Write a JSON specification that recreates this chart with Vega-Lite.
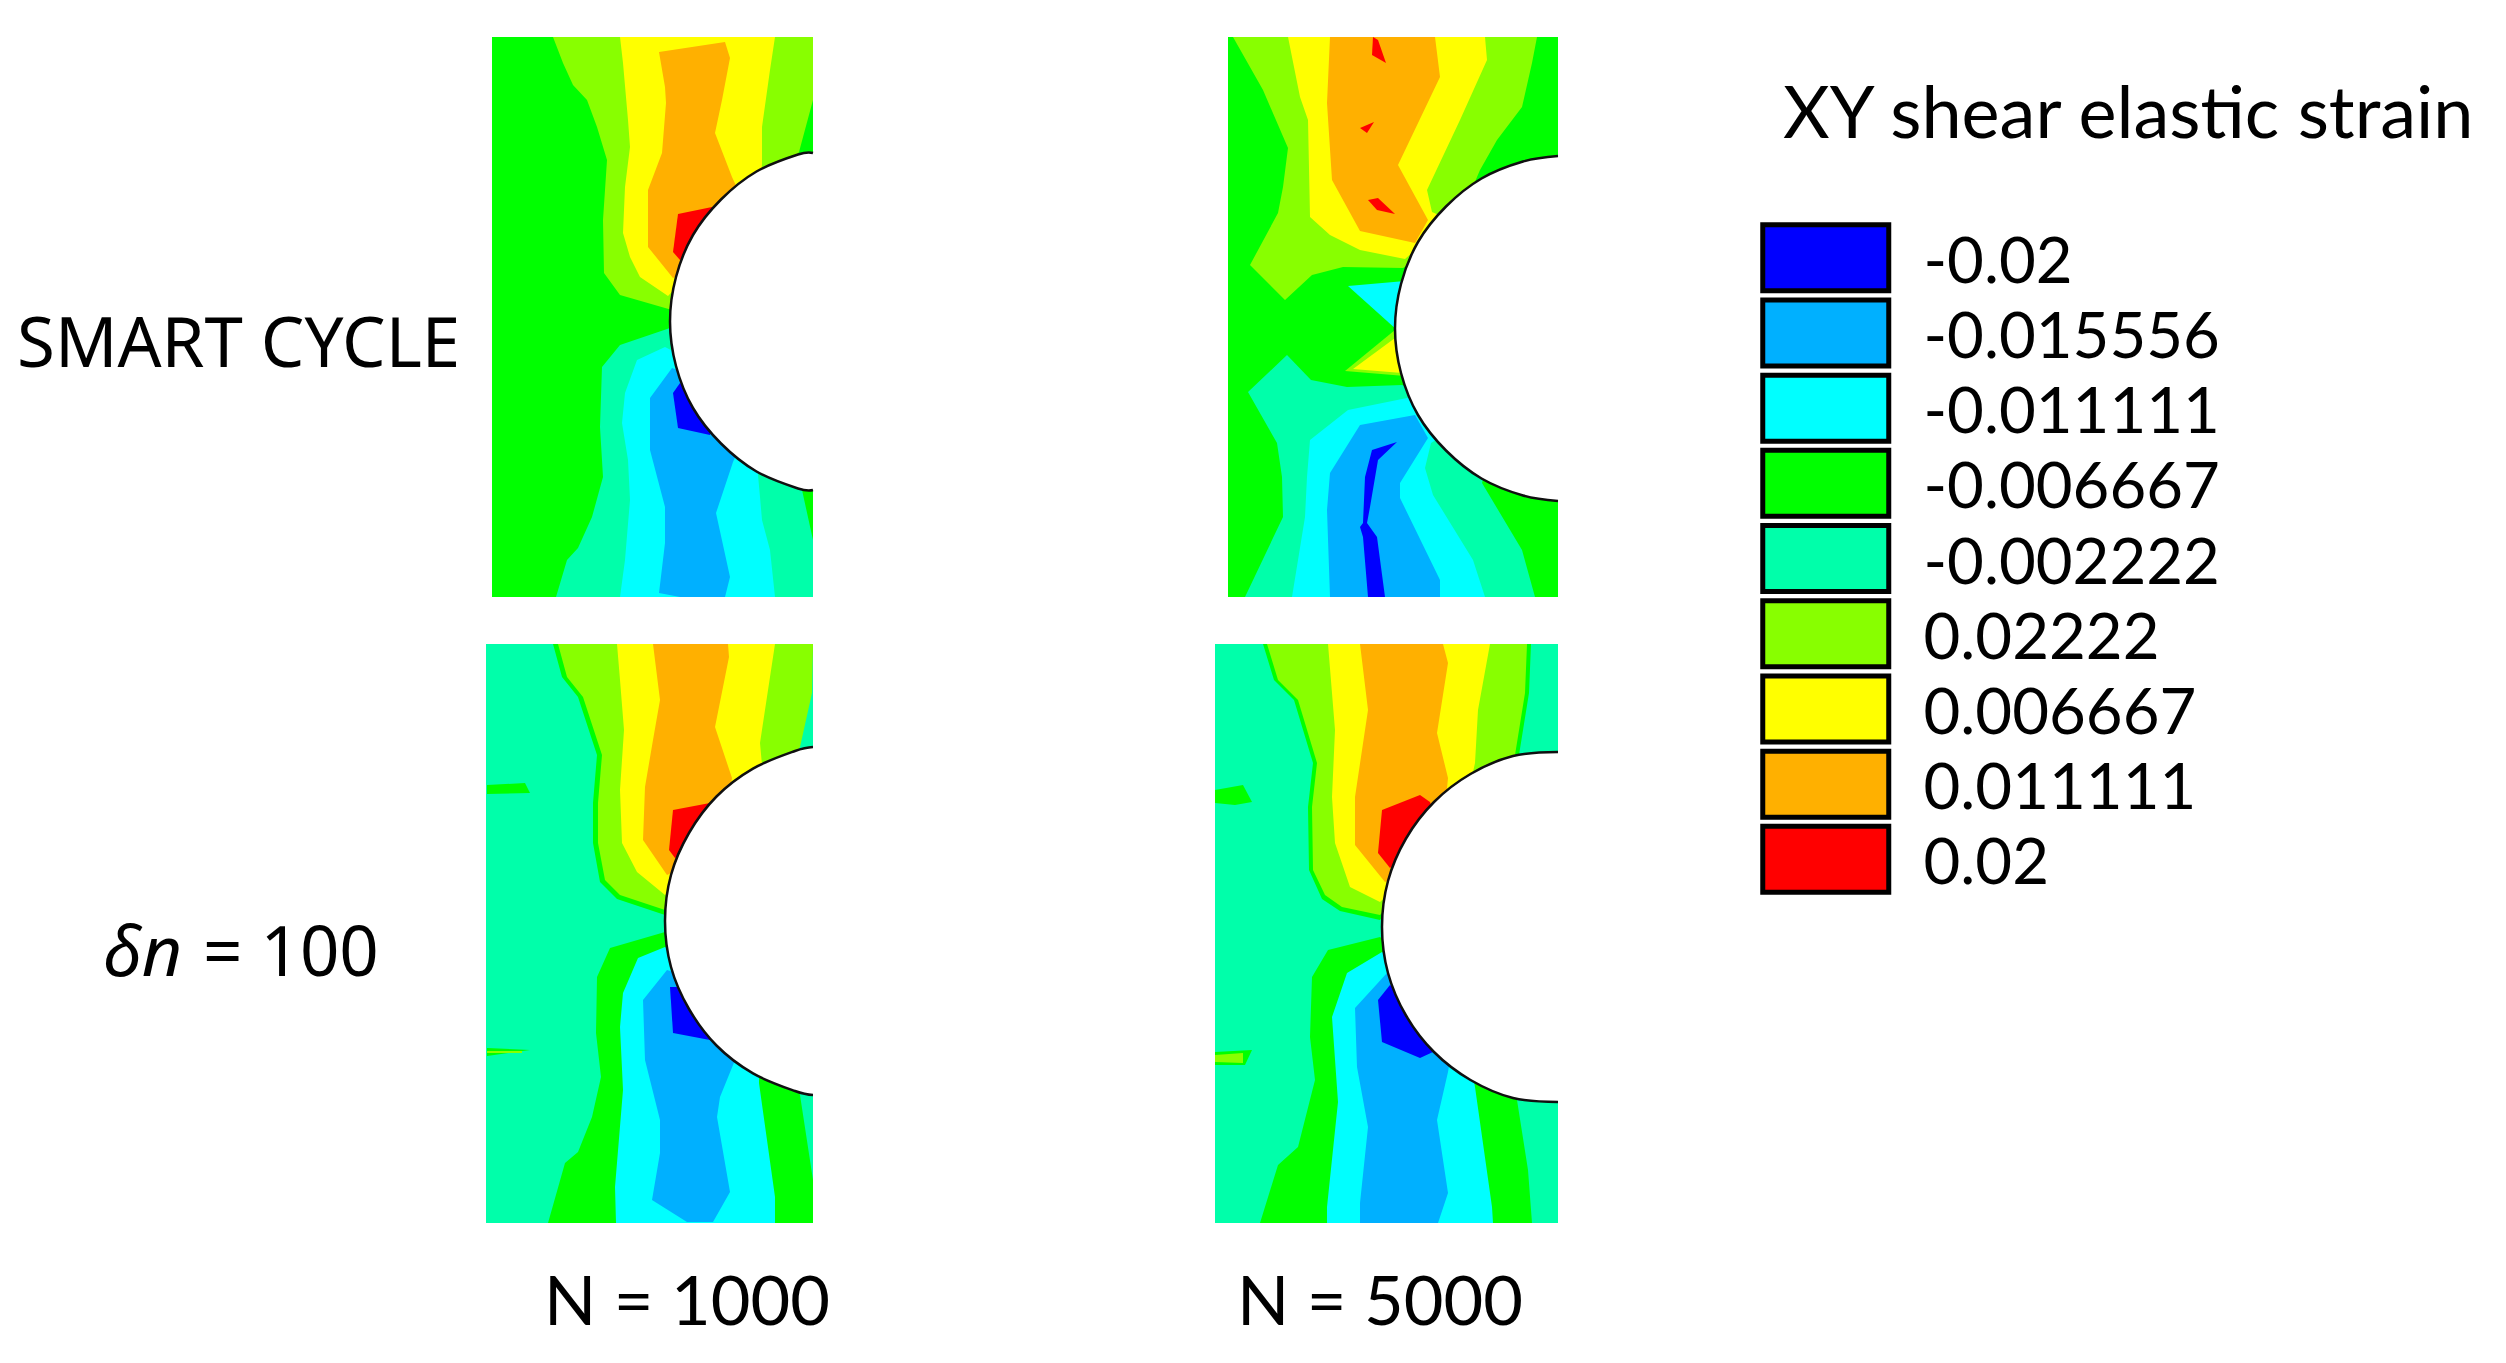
{
  "$schema": "https://vega.github.io/schema/vega-lite/v6.json",
  "width": 2506,
  "height": 1363,
  "padding": 0,
  "autosize": {"type": "fit", "contains": "padding"},
  "background": "white",
  "config": {"view": {"stroke": null}},
  "datasets": {
    "bands": [
      {"id":"A0","s":"-0.006667","i":0,"x":492,"y":37},{"id":"A0","s":"-0.006667","i":1,"x":813,"y":37},{"id":"A0","s":"-0.006667","i":2,"x":813,"y":597},{"id":"A0","s":"-0.006667","i":3,"x":492,"y":597},
      {"id":"A1","s":"0.02222","i":0,"x":553,"y":37},{"id":"A1","s":"0.02222","i":1,"x":563,"y":63},{"id":"A1","s":"0.02222","i":2,"x":573,"y":85},{"id":"A1","s":"0.02222","i":3,"x":587,"y":100},{"id":"A1","s":"0.02222","i":4,"x":597,"y":127},{"id":"A1","s":"0.02222","i":5,"x":607,"y":160},{"id":"A1","s":"0.02222","i":6,"x":603,"y":220},{"id":"A1","s":"0.02222","i":7,"x":604,"y":273},{"id":"A1","s":"0.02222","i":8,"x":620,"y":295},{"id":"A1","s":"0.02222","i":9,"x":672,"y":310},{"id":"A1","s":"0.02222","i":10,"x":760,"y":200},{"id":"A1","s":"0.02222","i":11,"x":799,"y":152},{"id":"A1","s":"0.02222","i":12,"x":813,"y":100},{"id":"A1","s":"0.02222","i":13,"x":813,"y":37},
      {"id":"A2","s":"0.006667","i":0,"x":620,"y":37},{"id":"A2","s":"0.006667","i":1,"x":623,"y":63},{"id":"A2","s":"0.006667","i":2,"x":628,"y":120},{"id":"A2","s":"0.006667","i":3,"x":630,"y":147},{"id":"A2","s":"0.006667","i":4,"x":625,"y":187},{"id":"A2","s":"0.006667","i":5,"x":623,"y":233},{"id":"A2","s":"0.006667","i":6,"x":630,"y":257},{"id":"A2","s":"0.006667","i":7,"x":640,"y":277},{"id":"A2","s":"0.006667","i":8,"x":668,"y":296},{"id":"A2","s":"0.006667","i":9,"x":760,"y":200},{"id":"A2","s":"0.006667","i":10,"x":762,"y":163},{"id":"A2","s":"0.006667","i":11,"x":762,"y":127},{"id":"A2","s":"0.006667","i":12,"x":770,"y":70},{"id":"A2","s":"0.006667","i":13,"x":775,"y":37},
      {"id":"A3","s":"0.011111","i":0,"x":659,"y":52},{"id":"A3","s":"0.011111","i":1,"x":725,"y":42},{"id":"A3","s":"0.011111","i":2,"x":730,"y":58},{"id":"A3","s":"0.011111","i":3,"x":722,"y":100},{"id":"A3","s":"0.011111","i":4,"x":715,"y":133},{"id":"A3","s":"0.011111","i":5,"x":732,"y":177},{"id":"A3","s":"0.011111","i":6,"x":745,"y":205},{"id":"A3","s":"0.011111","i":7,"x":690,"y":270},{"id":"A3","s":"0.011111","i":8,"x":673,"y":278},{"id":"A3","s":"0.011111","i":9,"x":648,"y":247},{"id":"A3","s":"0.011111","i":10,"x":648,"y":190},{"id":"A3","s":"0.011111","i":11,"x":662,"y":153},{"id":"A3","s":"0.011111","i":12,"x":666,"y":103},{"id":"A3","s":"0.011111","i":13,"x":665,"y":87},
      {"id":"A4","s":"0.02","i":0,"x":678,"y":214},{"id":"A4","s":"0.02","i":1,"x":712,"y":207},{"id":"A4","s":"0.02","i":2,"x":720,"y":230},{"id":"A4","s":"0.02","i":3,"x":680,"y":260},{"id":"A4","s":"0.02","i":4,"x":673,"y":252},
      {"id":"A5","s":"-0.002222","i":0,"x":670,"y":328},{"id":"A5","s":"-0.002222","i":1,"x":620,"y":345},{"id":"A5","s":"-0.002222","i":2,"x":602,"y":367},{"id":"A5","s":"-0.002222","i":3,"x":600,"y":427},{"id":"A5","s":"-0.002222","i":4,"x":603,"y":477},{"id":"A5","s":"-0.002222","i":5,"x":592,"y":517},{"id":"A5","s":"-0.002222","i":6,"x":578,"y":548},{"id":"A5","s":"-0.002222","i":7,"x":567,"y":560},{"id":"A5","s":"-0.002222","i":8,"x":556,"y":597},{"id":"A5","s":"-0.002222","i":9,"x":813,"y":597},{"id":"A5","s":"-0.002222","i":10,"x":813,"y":540},{"id":"A5","s":"-0.002222","i":11,"x":802,"y":490},{"id":"A5","s":"-0.002222","i":12,"x":760,"y":420},
      {"id":"A6","s":"-0.011111","i":0,"x":665,"y":347},{"id":"A6","s":"-0.011111","i":1,"x":637,"y":360},{"id":"A6","s":"-0.011111","i":2,"x":625,"y":393},{"id":"A6","s":"-0.011111","i":3,"x":622,"y":423},{"id":"A6","s":"-0.011111","i":4,"x":628,"y":460},{"id":"A6","s":"-0.011111","i":5,"x":630,"y":500},{"id":"A6","s":"-0.011111","i":6,"x":625,"y":560},{"id":"A6","s":"-0.011111","i":7,"x":620,"y":597},{"id":"A6","s":"-0.011111","i":8,"x":775,"y":597},{"id":"A6","s":"-0.011111","i":9,"x":770,"y":550},{"id":"A6","s":"-0.011111","i":10,"x":762,"y":520},{"id":"A6","s":"-0.011111","i":11,"x":760,"y":497},{"id":"A6","s":"-0.011111","i":12,"x":758,"y":475},{"id":"A6","s":"-0.011111","i":13,"x":770,"y":400},
      {"id":"A7","s":"-0.015556","i":0,"x":672,"y":368},{"id":"A7","s":"-0.015556","i":1,"x":650,"y":398},{"id":"A7","s":"-0.015556","i":2,"x":650,"y":450},{"id":"A7","s":"-0.015556","i":3,"x":665,"y":507},{"id":"A7","s":"-0.015556","i":4,"x":665,"y":543},{"id":"A7","s":"-0.015556","i":5,"x":659,"y":593},{"id":"A7","s":"-0.015556","i":6,"x":680,"y":597},{"id":"A7","s":"-0.015556","i":7,"x":725,"y":597},{"id":"A7","s":"-0.015556","i":8,"x":730,"y":577},{"id":"A7","s":"-0.015556","i":9,"x":716,"y":513},{"id":"A7","s":"-0.015556","i":10,"x":733,"y":462},{"id":"A7","s":"-0.015556","i":11,"x":760,"y":400},
      {"id":"A8","s":"-0.02","i":0,"x":680,"y":383},{"id":"A8","s":"-0.02","i":1,"x":673,"y":393},{"id":"A8","s":"-0.02","i":2,"x":678,"y":428},{"id":"A8","s":"-0.02","i":3,"x":710,"y":435},{"id":"A8","s":"-0.02","i":4,"x":720,"y":410},

      {"id":"B0","s":"-0.006667","i":0,"x":1228,"y":37},{"id":"B0","s":"-0.006667","i":1,"x":1558,"y":37},{"id":"B0","s":"-0.006667","i":2,"x":1558,"y":597},{"id":"B0","s":"-0.006667","i":3,"x":1228,"y":597},
      {"id":"B1","s":"0.02222","i":0,"x":1233,"y":37},{"id":"B1","s":"0.02222","i":1,"x":1263,"y":90},{"id":"B1","s":"0.02222","i":2,"x":1288,"y":148},{"id":"B1","s":"0.02222","i":3,"x":1283,"y":187},{"id":"B1","s":"0.02222","i":4,"x":1278,"y":213},{"id":"B1","s":"0.02222","i":5,"x":1250,"y":265},{"id":"B1","s":"0.02222","i":6,"x":1285,"y":300},{"id":"B1","s":"0.02222","i":7,"x":1312,"y":275},{"id":"B1","s":"0.02222","i":8,"x":1343,"y":267},{"id":"B1","s":"0.02222","i":9,"x":1403,"y":268},{"id":"B1","s":"0.02222","i":10,"x":1450,"y":240},{"id":"B1","s":"0.02222","i":11,"x":1480,"y":170},{"id":"B1","s":"0.02222","i":12,"x":1497,"y":140},{"id":"B1","s":"0.02222","i":13,"x":1522,"y":107},{"id":"B1","s":"0.02222","i":14,"x":1532,"y":63},{"id":"B1","s":"0.02222","i":15,"x":1537,"y":37},
      {"id":"B2","s":"0.006667","i":0,"x":1288,"y":37},{"id":"B2","s":"0.006667","i":1,"x":1300,"y":97},{"id":"B2","s":"0.006667","i":2,"x":1308,"y":120},{"id":"B2","s":"0.006667","i":3,"x":1310,"y":217},{"id":"B2","s":"0.006667","i":4,"x":1330,"y":235},{"id":"B2","s":"0.006667","i":5,"x":1360,"y":250},{"id":"B2","s":"0.006667","i":6,"x":1405,"y":259},{"id":"B2","s":"0.006667","i":7,"x":1450,"y":220},{"id":"B2","s":"0.006667","i":8,"x":1432,"y":212},{"id":"B2","s":"0.006667","i":9,"x":1427,"y":190},{"id":"B2","s":"0.006667","i":10,"x":1460,"y":120},{"id":"B2","s":"0.006667","i":11,"x":1487,"y":60},{"id":"B2","s":"0.006667","i":12,"x":1485,"y":37},
      {"id":"B3","s":"0.011111","i":0,"x":1330,"y":37},{"id":"B3","s":"0.011111","i":1,"x":1327,"y":103},{"id":"B3","s":"0.011111","i":2,"x":1332,"y":180},{"id":"B3","s":"0.011111","i":3,"x":1360,"y":231},{"id":"B3","s":"0.011111","i":4,"x":1415,"y":243},{"id":"B3","s":"0.011111","i":5,"x":1428,"y":220},{"id":"B3","s":"0.011111","i":6,"x":1398,"y":165},{"id":"B3","s":"0.011111","i":7,"x":1440,"y":77},{"id":"B3","s":"0.011111","i":8,"x":1435,"y":37},
      {"id":"B4","s":"0.02","i":0,"x":1373,"y":37},{"id":"B4","s":"0.02","i":1,"x":1378,"y":40},{"id":"B4","s":"0.02","i":2,"x":1386,"y":63},{"id":"B4","s":"0.02","i":3,"x":1372,"y":55},
      {"id":"B5","s":"0.02","i":0,"x":1360,"y":128},{"id":"B5","s":"0.02","i":1,"x":1374,"y":122},{"id":"B5","s":"0.02","i":2,"x":1367,"y":133},
      {"id":"B6","s":"0.02","i":0,"x":1368,"y":200},{"id":"B6","s":"0.02","i":1,"x":1378,"y":198},{"id":"B6","s":"0.02","i":2,"x":1395,"y":214},{"id":"B6","s":"0.02","i":3,"x":1377,"y":210},
      {"id":"B7","s":"-0.011111","i":0,"x":1348,"y":286},{"id":"B7","s":"-0.011111","i":1,"x":1405,"y":281},{"id":"B7","s":"-0.011111","i":2,"x":1397,"y":330},
      {"id":"B8","s":"0.02222","i":0,"x":1345,"y":371},{"id":"B8","s":"0.02222","i":1,"x":1395,"y":330},{"id":"B8","s":"0.02222","i":2,"x":1405,"y":376},
      {"id":"B9","s":"0.006667","i":0,"x":1353,"y":369},{"id":"B9","s":"0.006667","i":1,"x":1395,"y":338},{"id":"B9","s":"0.006667","i":2,"x":1402,"y":373},
      {"id":"B10","s":"-0.002222","i":0,"x":1287,"y":355},{"id":"B10","s":"-0.002222","i":1,"x":1311,"y":380},{"id":"B10","s":"-0.002222","i":2,"x":1347,"y":387},{"id":"B10","s":"-0.002222","i":3,"x":1402,"y":385},{"id":"B10","s":"-0.002222","i":4,"x":1500,"y":420},{"id":"B10","s":"-0.002222","i":5,"x":1482,"y":483},{"id":"B10","s":"-0.002222","i":6,"x":1522,"y":550},{"id":"B10","s":"-0.002222","i":7,"x":1535,"y":597},{"id":"B10","s":"-0.002222","i":8,"x":1245,"y":597},{"id":"B10","s":"-0.002222","i":9,"x":1283,"y":517},{"id":"B10","s":"-0.002222","i":10,"x":1282,"y":477},{"id":"B10","s":"-0.002222","i":11,"x":1277,"y":443},{"id":"B10","s":"-0.002222","i":12,"x":1248,"y":392},
      {"id":"B11","s":"-0.011111","i":0,"x":1407,"y":398},{"id":"B11","s":"-0.011111","i":1,"x":1348,"y":410},{"id":"B11","s":"-0.011111","i":2,"x":1310,"y":440},{"id":"B11","s":"-0.011111","i":3,"x":1307,"y":477},{"id":"B11","s":"-0.011111","i":4,"x":1305,"y":517},{"id":"B11","s":"-0.011111","i":5,"x":1292,"y":597},{"id":"B11","s":"-0.011111","i":6,"x":1485,"y":597},{"id":"B11","s":"-0.011111","i":7,"x":1473,"y":560},{"id":"B11","s":"-0.011111","i":8,"x":1433,"y":495},{"id":"B11","s":"-0.011111","i":9,"x":1425,"y":468},{"id":"B11","s":"-0.011111","i":10,"x":1431,"y":443},{"id":"B11","s":"-0.011111","i":11,"x":1500,"y":400},
      {"id":"B12","s":"-0.015556","i":0,"x":1415,"y":415},{"id":"B12","s":"-0.015556","i":1,"x":1360,"y":425},{"id":"B12","s":"-0.015556","i":2,"x":1330,"y":473},{"id":"B12","s":"-0.015556","i":3,"x":1327,"y":510},{"id":"B12","s":"-0.015556","i":4,"x":1330,"y":597},{"id":"B12","s":"-0.015556","i":5,"x":1440,"y":597},{"id":"B12","s":"-0.015556","i":6,"x":1440,"y":580},{"id":"B12","s":"-0.015556","i":7,"x":1400,"y":498},{"id":"B12","s":"-0.015556","i":8,"x":1400,"y":483},{"id":"B12","s":"-0.015556","i":9,"x":1428,"y":438},
      {"id":"B13","s":"-0.02","i":0,"x":1397,"y":442},{"id":"B13","s":"-0.02","i":1,"x":1372,"y":450},{"id":"B13","s":"-0.02","i":2,"x":1365,"y":477},{"id":"B13","s":"-0.02","i":3,"x":1363,"y":523},{"id":"B13","s":"-0.02","i":4,"x":1360,"y":527},{"id":"B13","s":"-0.02","i":5,"x":1363,"y":537},{"id":"B13","s":"-0.02","i":6,"x":1368,"y":597},{"id":"B13","s":"-0.02","i":7,"x":1385,"y":597},{"id":"B13","s":"-0.02","i":8,"x":1377,"y":537},{"id":"B13","s":"-0.02","i":9,"x":1367,"y":523},{"id":"B13","s":"-0.02","i":10,"x":1370,"y":507},{"id":"B13","s":"-0.02","i":11,"x":1378,"y":460},

      {"id":"C0","s":"-0.002222","i":0,"x":486,"y":644},{"id":"C0","s":"-0.002222","i":1,"x":813,"y":644},{"id":"C0","s":"-0.002222","i":2,"x":813,"y":1223},{"id":"C0","s":"-0.002222","i":3,"x":486,"y":1223},
      {"id":"C1","s":"-0.006667","i":0,"x":553,"y":644},{"id":"C1","s":"-0.006667","i":1,"x":562,"y":677},{"id":"C1","s":"-0.006667","i":2,"x":578,"y":697},{"id":"C1","s":"-0.006667","i":3,"x":597,"y":755},{"id":"C1","s":"-0.006667","i":4,"x":593,"y":803},{"id":"C1","s":"-0.006667","i":5,"x":593,"y":843},{"id":"C1","s":"-0.006667","i":6,"x":600,"y":882},{"id":"C1","s":"-0.006667","i":7,"x":617,"y":899},{"id":"C1","s":"-0.006667","i":8,"x":665,"y":915},{"id":"C1","s":"-0.006667","i":9,"x":740,"y":830},{"id":"C1","s":"-0.006667","i":10,"x":797,"y":747},{"id":"C1","s":"-0.006667","i":11,"x":810,"y":690},{"id":"C1","s":"-0.006667","i":12,"x":813,"y":644},
      {"id":"C2","s":"0.02222","i":0,"x":558,"y":644},{"id":"C2","s":"0.02222","i":1,"x":567,"y":677},{"id":"C2","s":"0.02222","i":2,"x":583,"y":697},{"id":"C2","s":"0.02222","i":3,"x":602,"y":755},{"id":"C2","s":"0.02222","i":4,"x":598,"y":803},{"id":"C2","s":"0.02222","i":5,"x":598,"y":843},{"id":"C2","s":"0.02222","i":6,"x":605,"y":880},{"id":"C2","s":"0.02222","i":7,"x":620,"y":895},{"id":"C2","s":"0.02222","i":8,"x":665,"y":910},{"id":"C2","s":"0.02222","i":9,"x":740,"y":830},{"id":"C2","s":"0.02222","i":10,"x":800,"y":747},{"id":"C2","s":"0.02222","i":11,"x":812,"y":693},{"id":"C2","s":"0.02222","i":12,"x":813,"y":644},
      {"id":"C3","s":"0.006667","i":0,"x":617,"y":644},{"id":"C3","s":"0.006667","i":1,"x":620,"y":680},{"id":"C3","s":"0.006667","i":2,"x":624,"y":730},{"id":"C3","s":"0.006667","i":3,"x":620,"y":790},{"id":"C3","s":"0.006667","i":4,"x":622,"y":843},{"id":"C3","s":"0.006667","i":5,"x":637,"y":872},{"id":"C3","s":"0.006667","i":6,"x":665,"y":895},{"id":"C3","s":"0.006667","i":7,"x":740,"y":830},{"id":"C3","s":"0.006667","i":8,"x":762,"y":765},{"id":"C3","s":"0.006667","i":9,"x":760,"y":743},{"id":"C3","s":"0.006667","i":10,"x":775,"y":644},
      {"id":"C4","s":"0.011111","i":0,"x":653,"y":644},{"id":"C4","s":"0.011111","i":1,"x":660,"y":700},{"id":"C4","s":"0.011111","i":2,"x":653,"y":740},{"id":"C4","s":"0.011111","i":3,"x":645,"y":787},{"id":"C4","s":"0.011111","i":4,"x":643,"y":840},{"id":"C4","s":"0.011111","i":5,"x":667,"y":875},{"id":"C4","s":"0.011111","i":6,"x":720,"y":850},{"id":"C4","s":"0.011111","i":7,"x":732,"y":778},{"id":"C4","s":"0.011111","i":8,"x":715,"y":727},{"id":"C4","s":"0.011111","i":9,"x":729,"y":657},{"id":"C4","s":"0.011111","i":10,"x":728,"y":644},
      {"id":"C5","s":"0.02","i":0,"x":673,"y":810},{"id":"C5","s":"0.02","i":1,"x":710,"y":803},{"id":"C5","s":"0.02","i":2,"x":720,"y":830},{"id":"C5","s":"0.02","i":3,"x":675,"y":858},{"id":"C5","s":"0.02","i":4,"x":669,"y":850},
      {"id":"C6","s":"-0.006667","i":0,"x":487,"y":785},{"id":"C6","s":"-0.006667","i":1,"x":525,"y":783},{"id":"C6","s":"-0.006667","i":2,"x":530,"y":793},{"id":"C6","s":"-0.006667","i":3,"x":487,"y":794},
      {"id":"C7","s":"-0.006667","i":0,"x":665,"y":932},{"id":"C7","s":"-0.006667","i":1,"x":610,"y":948},{"id":"C7","s":"-0.006667","i":2,"x":597,"y":977},{"id":"C7","s":"-0.006667","i":3,"x":596,"y":1033},{"id":"C7","s":"-0.006667","i":4,"x":601,"y":1077},{"id":"C7","s":"-0.006667","i":5,"x":592,"y":1117},{"id":"C7","s":"-0.006667","i":6,"x":578,"y":1152},{"id":"C7","s":"-0.006667","i":7,"x":565,"y":1163},{"id":"C7","s":"-0.006667","i":8,"x":548,"y":1223},{"id":"C7","s":"-0.006667","i":9,"x":813,"y":1223},{"id":"C7","s":"-0.006667","i":10,"x":813,"y":1180},{"id":"C7","s":"-0.006667","i":11,"x":800,"y":1095},{"id":"C7","s":"-0.006667","i":12,"x":760,"y":1000},
      {"id":"C8","s":"-0.011111","i":0,"x":665,"y":947},{"id":"C8","s":"-0.011111","i":1,"x":638,"y":958},{"id":"C8","s":"-0.011111","i":2,"x":623,"y":993},{"id":"C8","s":"-0.011111","i":3,"x":620,"y":1027},{"id":"C8","s":"-0.011111","i":4,"x":623,"y":1090},{"id":"C8","s":"-0.011111","i":5,"x":615,"y":1187},{"id":"C8","s":"-0.011111","i":6,"x":616,"y":1223},{"id":"C8","s":"-0.011111","i":7,"x":775,"y":1223},{"id":"C8","s":"-0.011111","i":8,"x":775,"y":1197},{"id":"C8","s":"-0.011111","i":9,"x":759,"y":1083},{"id":"C8","s":"-0.011111","i":10,"x":760,"y":1000},
      {"id":"C9","s":"-0.015556","i":0,"x":667,"y":970},{"id":"C9","s":"-0.015556","i":1,"x":643,"y":1000},{"id":"C9","s":"-0.015556","i":2,"x":645,"y":1060},{"id":"C9","s":"-0.015556","i":3,"x":660,"y":1120},{"id":"C9","s":"-0.015556","i":4,"x":660,"y":1153},{"id":"C9","s":"-0.015556","i":5,"x":652,"y":1200},{"id":"C9","s":"-0.015556","i":6,"x":687,"y":1222},{"id":"C9","s":"-0.015556","i":7,"x":713,"y":1222},{"id":"C9","s":"-0.015556","i":8,"x":730,"y":1192},{"id":"C9","s":"-0.015556","i":9,"x":717,"y":1117},{"id":"C9","s":"-0.015556","i":10,"x":720,"y":1097},{"id":"C9","s":"-0.015556","i":11,"x":733,"y":1065},{"id":"C9","s":"-0.015556","i":12,"x":760,"y":1000},
      {"id":"C10","s":"-0.02","i":0,"x":679,"y":987},{"id":"C10","s":"-0.02","i":1,"x":670,"y":987},{"id":"C10","s":"-0.02","i":2,"x":673,"y":1033},{"id":"C10","s":"-0.02","i":3,"x":710,"y":1040},{"id":"C10","s":"-0.02","i":4,"x":730,"y":1020},
      {"id":"C11","s":"-0.006667","i":0,"x":487,"y":1048},{"id":"C11","s":"-0.006667","i":1,"x":530,"y":1050},{"id":"C11","s":"-0.006667","i":2,"x":487,"y":1056},
      {"id":"C12","s":"0.02222","i":0,"x":487,"y":1051},{"id":"C12","s":"0.02222","i":1,"x":522,"y":1051},{"id":"C12","s":"0.02222","i":2,"x":522,"y":1053},{"id":"C12","s":"0.02222","i":3,"x":487,"y":1053},

      {"id":"D0","s":"-0.002222","i":0,"x":1215,"y":644},{"id":"D0","s":"-0.002222","i":1,"x":1558,"y":644},{"id":"D0","s":"-0.002222","i":2,"x":1558,"y":1223},{"id":"D0","s":"-0.002222","i":3,"x":1215,"y":1223},
      {"id":"D1","s":"-0.006667","i":0,"x":1263,"y":644},{"id":"D1","s":"-0.006667","i":1,"x":1274,"y":680},{"id":"D1","s":"-0.006667","i":2,"x":1294,"y":700},{"id":"D1","s":"-0.006667","i":3,"x":1313,"y":763},{"id":"D1","s":"-0.006667","i":4,"x":1308,"y":807},{"id":"D1","s":"-0.006667","i":5,"x":1309,"y":870},{"id":"D1","s":"-0.006667","i":6,"x":1322,"y":899},{"id":"D1","s":"-0.006667","i":7,"x":1340,"y":911},{"id":"D1","s":"-0.006667","i":8,"x":1380,"y":920},{"id":"D1","s":"-0.006667","i":9,"x":1460,"y":830},{"id":"D1","s":"-0.006667","i":10,"x":1519,"y":755},{"id":"D1","s":"-0.006667","i":11,"x":1529,"y":693},{"id":"D1","s":"-0.006667","i":12,"x":1531,"y":644},
      {"id":"D2","s":"0.02222","i":0,"x":1267,"y":644},{"id":"D2","s":"0.02222","i":1,"x":1278,"y":680},{"id":"D2","s":"0.02222","i":2,"x":1298,"y":700},{"id":"D2","s":"0.02222","i":3,"x":1317,"y":763},{"id":"D2","s":"0.02222","i":4,"x":1312,"y":807},{"id":"D2","s":"0.02222","i":5,"x":1313,"y":870},{"id":"D2","s":"0.02222","i":6,"x":1325,"y":895},{"id":"D2","s":"0.02222","i":7,"x":1342,"y":907},{"id":"D2","s":"0.02222","i":8,"x":1380,"y":915},{"id":"D2","s":"0.02222","i":9,"x":1460,"y":830},{"id":"D2","s":"0.02222","i":10,"x":1515,"y":755},{"id":"D2","s":"0.02222","i":11,"x":1525,"y":693},{"id":"D2","s":"0.02222","i":12,"x":1527,"y":644},
      {"id":"D3","s":"0.006667","i":0,"x":1328,"y":644},{"id":"D3","s":"0.006667","i":1,"x":1335,"y":730},{"id":"D3","s":"0.006667","i":2,"x":1332,"y":797},{"id":"D3","s":"0.006667","i":3,"x":1335,"y":843},{"id":"D3","s":"0.006667","i":4,"x":1350,"y":887},{"id":"D3","s":"0.006667","i":5,"x":1380,"y":902},{"id":"D3","s":"0.006667","i":6,"x":1460,"y":830},{"id":"D3","s":"0.006667","i":7,"x":1475,"y":763},{"id":"D3","s":"0.006667","i":8,"x":1478,"y":710},{"id":"D3","s":"0.006667","i":9,"x":1490,"y":644},
      {"id":"D4","s":"0.011111","i":0,"x":1360,"y":644},{"id":"D4","s":"0.011111","i":1,"x":1368,"y":710},{"id":"D4","s":"0.011111","i":2,"x":1355,"y":797},{"id":"D4","s":"0.011111","i":3,"x":1355,"y":845},{"id":"D4","s":"0.011111","i":4,"x":1385,"y":882},{"id":"D4","s":"0.011111","i":5,"x":1440,"y":860},{"id":"D4","s":"0.011111","i":6,"x":1448,"y":778},{"id":"D4","s":"0.011111","i":7,"x":1437,"y":733},{"id":"D4","s":"0.011111","i":8,"x":1448,"y":663},{"id":"D4","s":"0.011111","i":9,"x":1443,"y":644},
      {"id":"D5","s":"0.02","i":0,"x":1382,"y":810},{"id":"D5","s":"0.02","i":1,"x":1420,"y":795},{"id":"D5","s":"0.02","i":2,"x":1430,"y":802},{"id":"D5","s":"0.02","i":3,"x":1440,"y":830},{"id":"D5","s":"0.02","i":4,"x":1390,"y":868},{"id":"D5","s":"0.02","i":5,"x":1378,"y":853},
      {"id":"D6","s":"-0.006667","i":0,"x":1215,"y":790},{"id":"D6","s":"-0.006667","i":1,"x":1243,"y":785},{"id":"D6","s":"-0.006667","i":2,"x":1252,"y":802},{"id":"D6","s":"-0.006667","i":3,"x":1235,"y":805},{"id":"D6","s":"-0.006667","i":4,"x":1215,"y":803},
      {"id":"D7","s":"-0.006667","i":0,"x":1380,"y":937},{"id":"D7","s":"-0.006667","i":1,"x":1328,"y":950},{"id":"D7","s":"-0.006667","i":2,"x":1312,"y":977},{"id":"D7","s":"-0.006667","i":3,"x":1310,"y":1037},{"id":"D7","s":"-0.006667","i":4,"x":1315,"y":1080},{"id":"D7","s":"-0.006667","i":5,"x":1298,"y":1147},{"id":"D7","s":"-0.006667","i":6,"x":1278,"y":1165},{"id":"D7","s":"-0.006667","i":7,"x":1260,"y":1223},{"id":"D7","s":"-0.006667","i":8,"x":1532,"y":1223},{"id":"D7","s":"-0.006667","i":9,"x":1528,"y":1170},{"id":"D7","s":"-0.006667","i":10,"x":1517,"y":1100},{"id":"D7","s":"-0.006667","i":11,"x":1460,"y":1000},
      {"id":"D8","s":"-0.011111","i":0,"x":1382,"y":952},{"id":"D8","s":"-0.011111","i":1,"x":1347,"y":973},{"id":"D8","s":"-0.011111","i":2,"x":1332,"y":1017},{"id":"D8","s":"-0.011111","i":3,"x":1338,"y":1102},{"id":"D8","s":"-0.011111","i":4,"x":1327,"y":1207},{"id":"D8","s":"-0.011111","i":5,"x":1327,"y":1223},{"id":"D8","s":"-0.011111","i":6,"x":1493,"y":1223},{"id":"D8","s":"-0.011111","i":7,"x":1492,"y":1207},{"id":"D8","s":"-0.011111","i":8,"x":1475,"y":1087},{"id":"D8","s":"-0.011111","i":9,"x":1460,"y":1000},
      {"id":"D9","s":"-0.015556","i":0,"x":1387,"y":973},{"id":"D9","s":"-0.015556","i":1,"x":1355,"y":1008},{"id":"D9","s":"-0.015556","i":2,"x":1357,"y":1067},{"id":"D9","s":"-0.015556","i":3,"x":1368,"y":1127},{"id":"D9","s":"-0.015556","i":4,"x":1360,"y":1203},{"id":"D9","s":"-0.015556","i":5,"x":1360,"y":1223},{"id":"D9","s":"-0.015556","i":6,"x":1438,"y":1223},{"id":"D9","s":"-0.015556","i":7,"x":1448,"y":1193},{"id":"D9","s":"-0.015556","i":8,"x":1437,"y":1120},{"id":"D9","s":"-0.015556","i":9,"x":1448,"y":1072},{"id":"D9","s":"-0.015556","i":10,"x":1460,"y":1000},
      {"id":"D10","s":"-0.02","i":0,"x":1390,"y":985},{"id":"D10","s":"-0.02","i":1,"x":1378,"y":1000},{"id":"D10","s":"-0.02","i":2,"x":1382,"y":1042},{"id":"D10","s":"-0.02","i":3,"x":1420,"y":1058},{"id":"D10","s":"-0.02","i":4,"x":1433,"y":1052},{"id":"D10","s":"-0.02","i":5,"x":1450,"y":1030},
      {"id":"D11","s":"-0.006667","i":0,"x":1215,"y":1052},{"id":"D11","s":"-0.006667","i":1,"x":1252,"y":1050},{"id":"D11","s":"-0.006667","i":2,"x":1245,"y":1065},{"id":"D11","s":"-0.006667","i":3,"x":1215,"y":1065},
      {"id":"D12","s":"0.02222","i":0,"x":1215,"y":1055},{"id":"D12","s":"0.02222","i":1,"x":1243,"y":1053},{"id":"D12","s":"0.02222","i":2,"x":1243,"y":1063},{"id":"D12","s":"0.02222","i":3,"x":1215,"y":1062}
    ],
    "holes": [
      {"panel":"A","i":0,"x":813,"y":153},{"panel":"A","i":1,"x":798,"y":154.5},{"panel":"A","i":2,"x":756.5,"y":171.5},{"panel":"A","i":3,"x":721,"y":199.5},{"panel":"A","i":4,"x":693,"y":235},{"panel":"A","i":5,"x":676,"y":277},{"panel":"A","i":6,"x":670,"y":321.5},{"panel":"A","i":7,"x":676,"y":366},{"panel":"A","i":8,"x":693,"y":408},{"panel":"A","i":9,"x":721,"y":443.5},{"panel":"A","i":10,"x":756.5,"y":471.5},{"panel":"A","i":11,"x":798,"y":488.5},{"panel":"A","i":12,"x":813,"y":490},
      {"panel":"B","i":0,"x":1558,"y":156},{"panel":"B","i":1,"x":1523,"y":161.5},{"panel":"B","i":2,"x":1481.5,"y":178.5},{"panel":"B","i":3,"x":1446,"y":206.5},{"panel":"B","i":4,"x":1418,"y":242},{"panel":"B","i":5,"x":1401,"y":284},{"panel":"B","i":6,"x":1395,"y":328.5},{"panel":"B","i":7,"x":1401,"y":373},{"panel":"B","i":8,"x":1418,"y":415},{"panel":"B","i":9,"x":1446,"y":450.5},{"panel":"B","i":10,"x":1481.5,"y":478.5},{"panel":"B","i":11,"x":1523,"y":495.5},{"panel":"B","i":12,"x":1558,"y":501},
      {"panel":"C","i":0,"x":813,"y":747},{"panel":"C","i":1,"x":795,"y":751},{"panel":"C","i":2,"x":753,"y":768.6},{"panel":"C","i":3,"x":716.5,"y":796.5},{"panel":"C","i":4,"x":689,"y":833},{"panel":"C","i":5,"x":671,"y":875},{"panel":"C","i":6,"x":665,"y":921},{"panel":"C","i":7,"x":671,"y":967},{"panel":"C","i":8,"x":689,"y":1009},{"panel":"C","i":9,"x":716.5,"y":1045.5},{"panel":"C","i":10,"x":753,"y":1073.4},{"panel":"C","i":11,"x":795,"y":1091},{"panel":"C","i":12,"x":813,"y":1095},
      {"panel":"D","i":0,"x":1558,"y":752},{"panel":"D","i":1,"x":1513,"y":756},{"panel":"D","i":2,"x":1470.5,"y":774},{"panel":"D","i":3,"x":1434,"y":802},{"panel":"D","i":4,"x":1406,"y":838.5},{"panel":"D","i":5,"x":1388,"y":881},{"panel":"D","i":6,"x":1382,"y":927},{"panel":"D","i":7,"x":1388,"y":973},{"panel":"D","i":8,"x":1406,"y":1015.5},{"panel":"D","i":9,"x":1434,"y":1052},{"panel":"D","i":10,"x":1470.5,"y":1080},{"panel":"D","i":11,"x":1513,"y":1098},{"panel":"D","i":12,"x":1558,"y":1102}
    ]
  },
  "encoding": {
    "x": {"field": "x", "type": "quantitative", "axis": null, "scale": {"domain": [0, 2506], "nice": false, "zero": false}},
    "y": {"field": "y", "type": "quantitative", "axis": null, "scale": {"domain": [1363, 0], "nice": false, "zero": false}}
  },
  "layer": [
    {
      "data": {"name": "bands"},
      "mark": {"type": "line", "filled": true, "strokeWidth": 0, "opacity": 1},
      "encoding": {
        "detail": {"field": "id"},
        "order": {"field": "i", "type": "quantitative"},
        "color": {
          "field": "s",
          "type": "nominal",
          "scale": {
            "domain": ["-0.02", "-0.015556", "-0.011111", "-0.006667", "-0.002222", "0.02222", "0.006667", "0.011111", "0.02"],
            "range": ["#0000ff", "#00b0ff", "#00ffff", "#00ff00", "#00ffaa", "#88ff00", "#ffff00", "#ffb000", "#ff0000"]
          },
          "legend": {
            "title": null,
            "orient": "none",
            "legendX": 1794,
            "legendY": 226,
            "symbolType": "M-12.6,-6.6H12.6V6.6H-12.6Z",
            "symbolSize": 100,
            "symbolStrokeColor": "black",
            "symbolStrokeWidth": 5,
            "symbolOpacity": 1,
            "labelFont": "Lato",
            "labelFontSize": 63.5,
            "labelColor": "black",
            "labelOffset": 66,
            "rowPadding": -11.8,
            "labelLimit": 500,
            "encode": {"labels": {"update": {"dy": {"value": 6}}}}
          }
        }
      }
    },
    {
      "data": {"name": "holes"},
      "mark": {"type": "line", "filled": true, "color": "white", "strokeWidth": 0, "interpolate": "cardinal"},
      "encoding": {"detail": {"field": "panel"}, "order": {"field": "i", "type": "quantitative"}}
    },
    {
      "data": {"name": "holes"},
      "mark": {"type": "line", "color": "#101010", "strokeWidth": 2.5, "interpolate": "cardinal"},
      "encoding": {"detail": {"field": "panel"}, "order": {"field": "i", "type": "quantitative"}}
    },
    {
      "data": {"values": [
        {"label": "XY shear elastic strain", "x": 1783, "y": 138}
      ]},
      "mark": {"type": "text", "align": "left", "baseline": "alphabetic", "font": "Lato", "fontSize": 72, "color": "black"},
      "encoding": {"text": {"field": "label"}}
    },
    {
      "data": {"values": [
        {"label": "N = 1000", "x": 544, "y": 1325},
        {"label": "N = 5000", "x": 1237, "y": 1325}
      ]},
      "mark": {"type": "text", "align": "left", "baseline": "alphabetic", "font": "Lato", "fontSize": 68.5, "color": "black"},
      "encoding": {"text": {"field": "label"}}
    },
    {
      "data": {"values": [
        {"label": "SMART CYCLE", "x": 17, "y": 367},
        {"label": "= 100", "x": 203, "y": 976}
      ]},
      "mark": {"type": "text", "align": "left", "baseline": "alphabetic", "font": "Noto Sans", "fontSize": 69, "color": "black"},
      "encoding": {"text": {"field": "label"}}
    },
    {
      "data": {"values": [{"label": "δn", "x": 103, "y": 976}]},
      "mark": {"type": "text", "align": "left", "baseline": "alphabetic", "font": "Noto Sans", "fontStyle": "italic", "fontSize": 70, "color": "black"},
      "encoding": {"text": {"field": "label"}}
    }
  ]
}
